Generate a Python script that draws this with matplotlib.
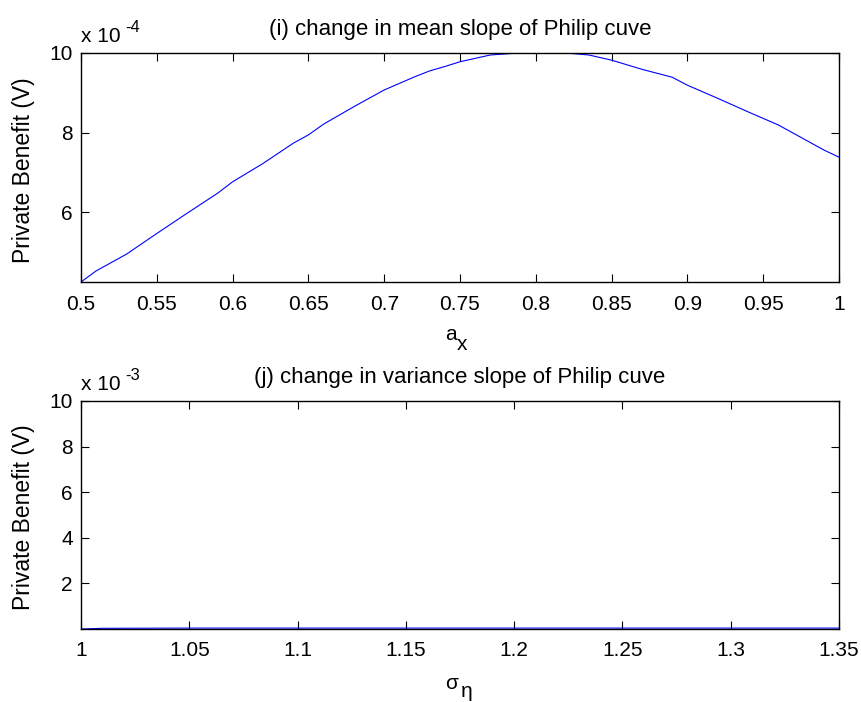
import matplotlib
matplotlib.use("Agg")
import matplotlib.pyplot as plt
import numpy as np

plt.rcParams['font.family'] = ['Liberation Sans', 'DejaVu Sans']

# (i) private benefit vs mean slope a_x  (values in units of 1e-4)
ax_vals = [0.50, 0.51, 0.53, 0.55, 0.57, 0.59, 0.60, 0.62, 0.64, 0.65, 0.66,
           0.68, 0.70, 0.72, 0.73, 0.74, 0.75, 0.77, 0.785, 0.80, 0.82, 0.835,
           0.85, 0.87, 0.89, 0.90, 0.92, 0.94, 0.96, 0.98, 0.99, 1.00]
pb_mean = [4.24, 4.52, 4.94, 5.46, 5.97, 6.47, 6.76, 7.22, 7.73, 7.94, 8.21,
           8.65, 9.07, 9.40, 9.55, 9.66, 9.78, 9.95, 9.99, 10.0, 10.0, 9.95,
           9.82, 9.59, 9.39, 9.19, 8.86, 8.52, 8.19, 7.77, 7.56, 7.38]
mean_scale = 1e-4

# (j) private benefit vs variance slope sigma_eta  (values in units of 1e-3)
sig_vals = [1.00, 1.01, 1.05, 1.10, 1.15, 1.20, 1.25, 1.30, 1.35]
pb_var = [0.0, 0.03, 0.04, 0.04, 0.04, 0.04, 0.04, 0.04, 0.04]
var_scale = 1e-3

top_xticks = [0.5, 0.55, 0.6, 0.65, 0.7, 0.75, 0.8, 0.85, 0.9, 0.95, 1]
top_xlabels = ['0.5', '0.55', '0.6', '0.65', '0.7', '0.75', '0.8', '0.85', '0.9', '0.95', '1']
top_yticks = [6, 8, 10]
bot_xticks = [1, 1.05, 1.1, 1.15, 1.2, 1.25, 1.3, 1.35]
bot_xlabels = ['1', '1.05', '1.1', '1.15', '1.2', '1.25', '1.3', '1.35']
bot_yticks = [2, 4, 6, 8, 10]

W, H = 862, 702
fig = plt.figure(figsize=(W / 100, H / 100), dpi=100)
FS = 15
TFS = 16
LFS = 16.5


def box(l, t, r, b):
    return [l / W, (H - b) / H, (r - l) / W, (b - t) / H]


def ftext(x, y, s, **kw):
    # place text at pixel position (x from left, y from top)
    fig.text(x / W, (H - y) / H, s, va='baseline', **kw)


def style(ax):
    for s in ax.spines.values():
        s.set_linewidth(1.0)
    ax.tick_params(direction='in', top=True, right=True, length=5.5, width=0.8,
                   labelsize=FS, colors='black')
    ax.tick_params(axis='x', pad=9)
    ax.tick_params(axis='y', pad=6)


# top panel
ax1 = fig.add_axes(box(81, 53, 839, 282))
ax1.plot(ax_vals, np.array(pb_mean) * mean_scale, color='#0000ff', lw=0.8)
ax1.set_xlim(0.5, 1.0)
ax1.set_ylim(min(pb_mean) * mean_scale, 10.0 * mean_scale)
ax1.set_xticks(top_xticks)
ax1.set_xticklabels(top_xlabels)
ax1.set_yticks([v * mean_scale for v in top_yticks])
ax1.set_yticklabels([str(v) for v in top_yticks])
style(ax1)
ax1.set_title('(i) change in mean slope of Philip cuve', fontsize=TFS, pad=13)
ax1.set_ylabel('Private Benefit (V)', fontsize=LFS)
ax1.yaxis.set_label_coords(-0.061, 0.49)
ftext(81, 42, 'x 10', fontsize=FS, ha='left')
ftext(125, 32, '-4', fontsize=12, ha='left')
ftext(445, 340, 'a', fontsize=FS, ha='left')
ftext(457, 350, 'x', fontsize=FS, ha='left')

# bottom panel
ax2 = fig.add_axes(box(81, 401, 839, 629))
ax2.plot(sig_vals, np.array(pb_var) * var_scale, color='#0000ff', lw=0.8)
ax2.set_xlim(1.0, 1.35)
ax2.set_ylim(0.0, 10.0 * var_scale)
ax2.set_xticks(bot_xticks)
ax2.set_xticklabels(bot_xlabels)
ax2.set_yticks([v * var_scale for v in bot_yticks])
ax2.set_yticklabels([str(v) for v in bot_yticks])
style(ax2)
ax2.set_title('(j) change in variance slope of Philip cuve', fontsize=TFS, pad=13)
ax2.set_ylabel('Private Benefit (V)', fontsize=LFS)
ax2.yaxis.set_label_coords(-0.061, 0.49)
ftext(81, 390, 'x 10', fontsize=FS, ha='left')
ftext(125, 380, '-3', fontsize=12, ha='left')
ftext(445, 689, '\u03c3', fontsize=FS, ha='left')
ftext(461, 697, '\u03b7', fontsize=FS, ha='left')

fig.savefig('out.png', dpi=100)
